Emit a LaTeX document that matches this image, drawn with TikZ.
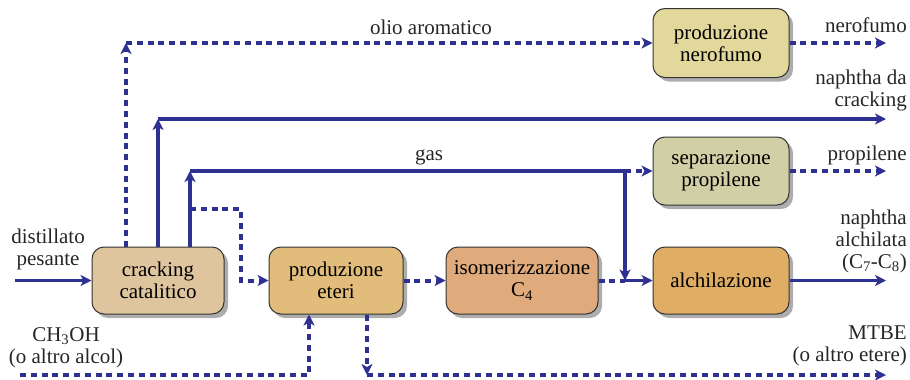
\documentclass[tikz,border=0pt]{standalone}
\usepackage{fontspec}
\setmainfont{Liberation Serif}
\usetikzlibrary{arrows.meta,shadows}
\definecolor{flowblue}{HTML}{2E3192}
\definecolor{cCrack}{HTML}{DFC59D}
\definecolor{cEteri}{HTML}{E1BC7B}
\definecolor{cIso}{HTML}{DFAA7C}
\definecolor{cAlch}{HTML}{DFAD63}
\definecolor{cNero}{HTML}{E3D89B}
\definecolor{cSep}{HTML}{D1CFA5}
\begin{document}
\begin{tikzpicture}[x=1pt,y=-1pt,
  font=\fontsize{21}{22}\selectfont,
  unit/.style={draw=black!80, line width=1pt, rounded corners=12pt,
    minimum height=67pt, align=center, inner sep=2pt,
    drop shadow={shadow xshift=4pt, shadow yshift=-4pt, fill=black!40, opacity=0.8}},
  tip/.style={-{Stealth[length=11pt,width=11pt,inset=3pt]}},
  solidflow/.style={draw=flowblue, line width=3.5pt},
  dashflow/.style={draw=flowblue, line width=4pt, dash pattern=on 6pt off 4.8pt},
  lbl/.style={inner sep=0pt, align=center, text=black!85},
  rlbl/.style={inner sep=0pt, align=right, anchor=east, text=black!85}]
\useasboundingbox (0,0) rectangle (910,380);

% process units
\node[unit, fill=cCrack, minimum width=132pt] (crack) at (158,280.5) {cracking\\catalitico};
\node[unit, fill=cEteri, minimum width=134pt] (eteri) at (336,280.5) {produzione\\eteri};
\node[unit, fill=cIso, minimum width=152pt] (iso) at (522,280.5) {isomerizzazione\\C\textsubscript{4}};
\node[unit, fill=cAlch, minimum width=136pt] (alch) at (721,280.5) {alchilazione};
\node[unit, fill=cNero, minimum width=136pt, minimum height=69pt] (nero) at (721,43) {produzione\\nerofumo};
\node[unit, fill=cSep, minimum width=136pt, minimum height=68pt] (sep) at (721,171) {separazione\\propilene};

% routing points
\coordinate (in) at (15,280.5);
\coordinate (oil) at (126,43);
\coordinate (nap) at (158,119);
\coordinate (napEnd) at (886,119);
\coordinate (gas) at (190,171);
\coordinate (gasJ) at (625,171);
\coordinate (alkJ) at (625,280.5);
\coordinate (e0) at (190,209);
\coordinate (e1) at (241,209);
\coordinate (alkEnd) at (886,280.5);
\coordinate (neroEnd) at (886,43);
\coordinate (sepEnd) at (886,171);
\coordinate (meoh0) at (20,375);
\coordinate (meoh1) at (309,375);
\coordinate (mtbe0) at (367,375);
\coordinate (mtbeEnd) at (886,375);

% feed
\draw[solidflow, tip] (in) -- (crack.west);

% aromatic oil to carbon black
\draw[dashflow, tip] (crack.north -| oil) -- (oil);
\draw[dashflow, tip] (oil) -- (nero.west);
\draw[dashflow, tip] (nero.east) -- (neroEnd);

% cracked naphtha
\draw[solidflow, tip] (crack.north -| nap) -- (nap);
\draw[solidflow, tip] (nap) -- (napEnd);

% gas line
\draw[solidflow, tip] (crack.north -| gas) -- (gas);
\draw[solidflow, tip] (gas) -- (gasJ) -- (alkJ);
\draw[dashflow, tip] (gasJ) -- (sep.west);
\draw[dashflow, tip] (sep.east) -- (sepEnd);

% C4 to ethers, isomerization and alkylation
\draw[dashflow, tip] (e0) -- (e1) -- (e1 |- eteri.west) -- (eteri.west);
\draw[dashflow, tip] (eteri.east) -- (iso.west);
\draw[dashflow] (iso.east) -- (alkJ);
\draw[solidflow, tip] (alkJ) -- (alch.west);
\draw[solidflow, tip] (alch.east) -- (alkEnd);

% alcohol feed and ether product
\draw[dashflow, tip] (meoh0) -- (meoh1) -- (meoh1 |- eteri.south);
\draw[dashflow, tip] (eteri.south -| mtbe0) -- (mtbe0);
\draw[dashflow, tip] (mtbe0) -- (mtbeEnd);

% stream labels
\node[lbl] (lDist) at (48,249) {distillato\\pesante};
\node[lbl] (lMeoh) at (66,348) {CH\textsubscript{3}OH\\(o altro alcol)};
\node[lbl] (lOil) at (431,27) {olio aromatico};
\node[lbl] (lGas) at (429,157) {gas};
\node[rlbl] (lNero) at (907,25) {nerofumo};
\node[rlbl] (lNap) at (907,90) {naphtha da\\cracking};
\node[rlbl] (lProp) at (907,155) {propilene};
\node[rlbl] (lAlk) at (907,241) {naphtha\\alchilata\\(C\textsubscript{7}-C\textsubscript{8})};
\node[rlbl] (lMtbe) at (907,346) {MTBE\\(o altro etere)};
\end{tikzpicture}
\end{document}
